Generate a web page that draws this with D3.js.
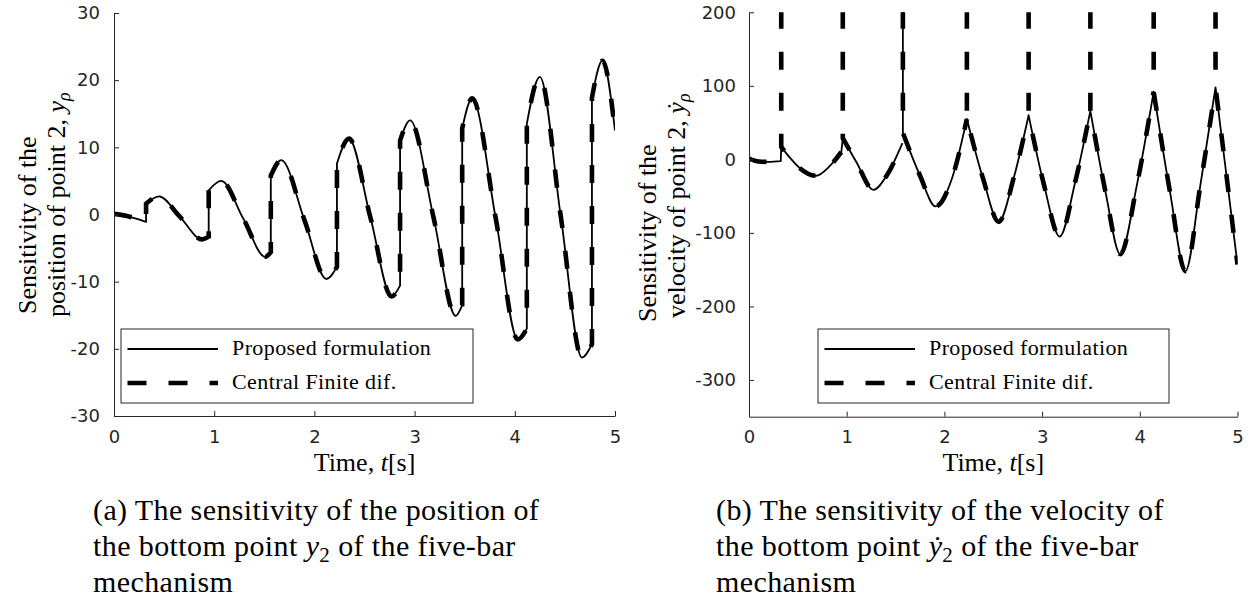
<!DOCTYPE html>
<html>
<head>
<meta charset="utf-8">
<script src="https://cdn.jsdelivr.net/npm/d3@7"></script>
<style>
  body { margin: 0; background: #fff; }
  .tick text { font-family: "DejaVu Sans", sans-serif; font-size: 18px; fill: #262626; }
  .tick line, .domain { stroke: #262626; stroke-width: 1; }
  .serif { font-family: "Liberation Serif", "Times New Roman", serif; fill: #000; }
</style>
</head>
<body>
<div id="chart"></div>
<script>
// tick labels
const timeTicks = [0, 1, 2, 3, 4, 5];
const posTicks = [-30, -20, -10, 0, 10, 20, 30];
const velTicks = [-300, -200, -100, 0, 100, 200];
const seriesNames = ["Proposed formulation", "Central Finite dif."];

// (a) sensitivity of the position, one array per piece between jumps: [t, value]
const posProposed = [
  [[0, 0.1], [0.12, -0.2], [0.22, -0.6], [0.32, -1.1]],
  [[0.32, 1.6], [0.45, 2.7], [0.65, -0.2], [0.88, -3.7], [0.945, -3.3]],
  [[0.945, 3.6], [1.07, 5.0], [1.29, -0.6], [1.51, -6.3], [1.565, -5.6]],
  [[1.565, 5.8], [1.67, 8.1], [1.9, -0.8], [2.12, -9.6], [2.225, -7.8]],
  [[2.225, 7.6], [2.345, 11.3], [2.56, -0.5], [2.77, -12.2], [2.855, -10.6]],
  [[2.855, 11.0], [2.955, 14.0], [3.19, -0.5], [3.41, -15.1], [3.475, -13.5]],
  [[3.475, 12.8], [3.575, 17.3], [3.81, -0.6], [4.03, -18.6], [4.12, -17.0]],
  [[4.12, 13.5], [4.25, 20.5], [4.46, -0.4], [4.67, -21.3], [4.77, -19.3]],
  [[4.77, 17.4], [4.875, 22.9], [5.0, 12.5]]
];
// finite differences lie on top of the proposed curve
const posFiniteDiff = posProposed;

// (b) sensitivity of the velocity, pieces between cusps
const velProposed = [
  [[0, 1], [0.1, -3], [0.2, -3.5], [0.325, -2.5]],
  [[0.33, 17], [0.42, 2], [0.52, -12], [0.686, -22.3], [0.82, -10], [0.945, 10]],
  [[0.96, 29], [1.1, -4], [1.274, -41.4], [1.41, -22], [1.57, 22]],
  [[1.575, 36], [1.75, -22], [1.91, -64], [2.08, -25], [2.23, 55]],
  [[2.23, 55], [2.4, -28], [2.555, -85], [2.71, -25], [2.862, 60]],
  [[2.862, 60], [3.02, -35], [3.18, -105], [3.34, -30], [3.494, 66]],
  [[3.494, 66], [3.65, -45], [3.8, -129], [3.97, -35], [4.142, 92]],
  [[4.142, 92], [4.31, -45], [4.467, -152], [4.62, -35], [4.775, 98]],
  [[4.775, 98], [4.89, -25], [5.0, -143]]
];
const velFiniteDiff = velProposed;
// spike at each joint between pieces, runs off the top of the axes (null = none)
const velProposedSpike = [null, null, 202, null, null, null, null, null];
const velFiniteDiffSpike = [202, 202, 202, 202, 202, 202, 202, 202];

const W = 1253, H = 602;
const svg = d3.select("#chart").append("svg")
  .attr("width", W)
  .attr("height", H)
  .style("background", "#fff");

const dash = "18,23";

function buildPath(segments, spikes, x, y) {
  const line = d3.line()
    .x(d => x(d[0]))
    .y(d => y(d[1]))
    .curve(d3.curveMonotoneX);
  let p = "";
  segments.forEach((seg, i) => {
    let s = line(seg);
    if (i > 0) {
      if (spikes && spikes[i - 1] != null) {
        // comes down from above the axes into the next piece
        s = "M" + x(seg[0][0]) + "," + y(spikes[i - 1]) + "L" + s.slice(1);
      } else {
        s = "L" + s.slice(1);
      }
    }
    p += s;
  });
  return p;
}

function drawPanel(opt) {
  const x = d3.scaleLinear().domain([0, 5]).range(opt.xRange);
  const y = d3.scaleLinear().domain(opt.yDomain).range(opt.yRange);
  const g = svg.append("g");

  const clipId = "clip-" + opt.id;
  svg.append("clipPath").attr("id", clipId)
    .append("rect")
    .attr("x", opt.xRange[0])
    .attr("y", opt.yRange[1])
    .attr("width", opt.xRange[1] - opt.xRange[0])
    .attr("height", opt.yRange[0] - opt.yRange[1]);

  const plot = g.append("g").attr("clip-path", "url(#" + clipId + ")");
  plot.append("path")
    .attr("d", buildPath(opt.proposed, opt.proposedSpike, x, y))
    .attr("fill", "none")
    .attr("stroke", "#000")
    .attr("stroke-width", 1.8)
    .attr("stroke-linejoin", "round");
  plot.append("path")
    .attr("d", buildPath(opt.finiteDiff, opt.finiteDiffSpike, x, y))
    .attr("fill", "none")
    .attr("stroke", "#000")
    .attr("stroke-width", 4.6)
    .attr("stroke-dasharray", dash);

  // axes
  g.append("g")
    .attr("transform", "translate(0," + opt.yRange[0] + ")")
    .call(d3.axisBottom(x).tickValues(timeTicks).tickSizeInner(-5)
      .tickSizeOuter(0).tickPadding(14).tickFormat(d => String(d)))
    .attr("font-family", null).attr("font-size", null);
  g.append("g")
    .attr("transform", "translate(" + opt.xRange[0] + ",0)")
    .call(d3.axisLeft(y).tickValues(opt.yTicks).tickSizeInner(-5)
      .tickSizeOuter(0).tickPadding(opt.yPad).tickFormat(d => String(d)))
    .attr("font-family", null).attr("font-size", null);

  // x label
  const xl = g.append("text").attr("class", "serif")
    .attr("x", (opt.xRange[0] + opt.xRange[1]) / 2)
    .attr("y", 471)
    .attr("text-anchor", "middle")
    .attr("font-size", 26);
  xl.append("tspan").text("Time, ");
  xl.append("tspan").attr("font-style", "italic").text("t");
  xl.append("tspan").text("[s]");

  // y label (two lines)
  g.append("text").attr("class", "serif")
    .attr("transform", "translate(" + opt.yLab[0] + "," + opt.yLab[1] + ") rotate(-90)")
    .attr("font-size", 26)
    .text("Sensitivity of the");
  const yl2 = g.append("text").attr("class", "serif")
    .attr("transform", "translate(" + opt.yLab[2] + "," + opt.yLab[3] + ") rotate(-90)")
    .attr("font-size", 26);
  yl2.append("tspan").text(opt.quantity + " of point 2, ");
  yl2.append("tspan").attr("font-style", "italic").text(opt.symbol);
  yl2.append("tspan").attr("font-style", "italic").attr("font-size", 18).attr("dy", 5).text("ρ");

  // legend
  const lg = g.append("g");
  lg.append("rect")
    .attr("x", opt.legend[0]).attr("y", 329)
    .attr("width", opt.legend[1]).attr("height", 74)
    .attr("fill", "#fff").attr("stroke", "#262626").attr("stroke-width", 1);
  const lx0 = opt.legend[0] + 6.5, lx1 = opt.legend[0] + 97;
  lg.append("line").attr("x1", lx0).attr("x2", lx1).attr("y1", 349).attr("y2", 349)
    .attr("stroke", "#000").attr("stroke-width", 1.8);
  lg.append("line").attr("x1", lx0).attr("x2", lx1).attr("y1", 383).attr("y2", 383)
    .attr("stroke", "#000").attr("stroke-width", 4.6).attr("stroke-dasharray", "19,22");
  seriesNames.forEach((name, i) => {
    lg.append("text").attr("class", "serif")
      .attr("x", opt.legend[0] + 111)
      .attr("y", i === 0 ? 355 : 389)
      .attr("font-size", 22)
      .attr("letter-spacing", 0.4)
      .text(name);
  });

  // caption
  const cap = g.append("text").attr("class", "serif")
    .attr("font-size", 30)
    .attr("letter-spacing", 0.4);
  cap.append("tspan").attr("x", opt.capX).attr("y", 520).text(opt.caption);
  const l2 = cap.append("tspan").attr("x", opt.capX).attr("y", 556);
  l2.append("tspan").text("the bottom point ");
  l2.append("tspan").attr("font-style", "italic").text(opt.symbol);
  l2.append("tspan").attr("font-size", 21).attr("dy", 6).text("2");
  l2.append("tspan").attr("dy", -6).text(" of the five-bar");
  cap.append("tspan").attr("x", opt.capX).attr("y", 592).text("mechanism");
}

drawPanel({
  id: "a",
  xRange: [114, 615],
  yDomain: [-30, 30],
  yRange: [416, 13],
  yTicks: posTicks,
  yPad: 14,
  proposed: posProposed,
  finiteDiff: posFiniteDiff,
  proposedSpike: null,
  finiteDiffSpike: null,
  yLab: [36, 314, 65, 317],
  quantity: "position",
  symbol: "y",
  legend: [121, 352],
  capX: 93,
  caption: "(a) The sensitivity of the position of"
});

drawPanel({
  id: "b",
  xRange: [749, 1237.5],
  yDomain: [-350, 200],
  yRange: [416.7, 12.3],
  yTicks: velTicks,
  yPad: 13,
  proposed: velProposed,
  finiteDiff: velFiniteDiff,
  proposedSpike: velProposedSpike,
  finiteDiffSpike: velFiniteDiffSpike,
  yLab: [656, 322, 685, 318],
  quantity: "velocity",
  symbol: "ẏ",
  legend: [818, 351],
  capX: 716,
  caption: "(b) The sensitivity of the velocity of"
});
</script>
</body>
</html>
